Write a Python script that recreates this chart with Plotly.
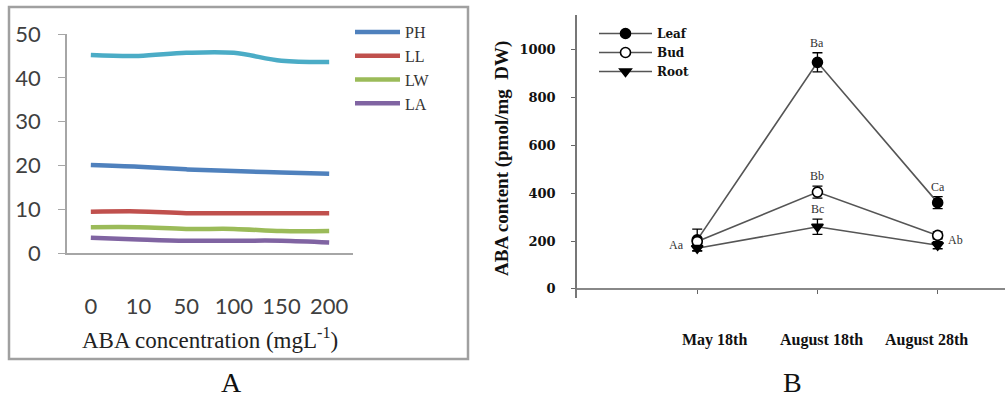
import plotly.graph_objects as go

# ---------------- data: panel A ----------------
conc = ["0", "10", "50", "100", "150", "200"]
unlabelled = [45.2, 45.0, 45.7, 45.7, 43.9, 43.6]
PH = [20.1, 19.7, 19.1, 18.7, 18.4, 18.1]
LL = [9.4, 9.5, 9.1, 9.1, 9.1, 9.1]
LW = [5.9, 5.9, 5.5, 5.5, 5.0, 5.0]
LA = [3.5, 3.1, 2.8, 2.8, 2.8, 2.4]
yticks_A = [0, 10, 20, 30, 40, 50]

# ---------------- data: panel B ----------------
dates = ["May 18th", "August 18th", "August 28th"]
date_pos = [1, 2, 3]
leaf = [205, 948, 361]
leaf_err = [45, 40, 25]
bud = [198, 405, 224]
bud_err = [10, 25, 15]
root = [170, 260, 183]
root_err = [12, 32, 15]
yticks_B = [0, 200, 400, 600, 800, 1000]
letters_above = [("Ba", 1, "leaf"), ("Bb", 1, "bud"), ("Bc", 1, "root"), ("Ca", 2, "leaf")]
letter_left = ("Aa", 0)
letter_right = ("Ab", 2)

W, H = 1005, 400
def px(x): return x / W
def py(y): return 1 - y / H

fig = go.Figure()

colsA = {"unl": "#4BACC6", "PH": "#4F81BD", "LL": "#C0504D", "LW": "#9BBB59", "LA": "#8064A2"}
fig.add_trace(go.Scatter(x=conc, y=unlabelled, mode="lines", line=dict(color=colsA["unl"], width=4.5, shape="spline"),
                         showlegend=False, xaxis="x", yaxis="y"))
for name, vals in [("PH", PH), ("LL", LL), ("LW", LW), ("LA", LA)]:
    fig.add_trace(go.Scatter(x=conc, y=vals, mode="lines", name=name,
                             line=dict(color=colsA[name], width=4.5, shape="spline"),
                             xaxis="x", yaxis="y", legend="legend"))

serif = "Liberation Serif"
wideserif = "DejaVu Serif"
series_B = [("Leaf", leaf, leaf_err, "circle", "black"),
            ("Bud", bud, bud_err, "circle", "white"),
            ("Root", root, root_err, "triangle-down", "black")]
for name, vals, err, sym, fill in series_B:
    fig.add_trace(go.Scatter(
        x=date_pos, y=vals, mode="lines+markers", name=name,
        line=dict(color="#555555", width=1.6),
        marker=dict(symbol=sym, size=10, color=fill, line=dict(color="black", width=1.6)),
        error_y=dict(type="data", array=err, color="black", thickness=1.3, width=5),
        xaxis="x2", yaxis="y2", legend="legend2"))

lookup = {"leaf": (leaf, leaf_err), "bud": (bud, bud_err), "root": (root, root_err)}
ann = []
for txt, i, ser in letters_above:
    v, e = lookup[ser]
    ann.append(dict(x=date_pos[i], y=v[i] + e[i], xref="x2", yref="y2", text=txt, showarrow=False,
                    xanchor="center", yanchor="bottom", yshift=1, font=dict(family=serif, size=12, color="#333")))
t, i = letter_left
ann.append(dict(x=date_pos[i], y=(bud[i] + root[i]) / 2, xref="x2", yref="y2", text=t, showarrow=False,
                xanchor="right", yanchor="middle", xshift=-11, font=dict(family=serif, size=12, color="#333")))
t, i = letter_right
ann.append(dict(x=date_pos[i], y=(bud[i] + root[i]) / 2, xref="x2", yref="y2", text=t, showarrow=False,
                xanchor="left", yanchor="middle", xshift=8, font=dict(family=serif, size=12, color="#333")))
# date category labels (SigmaPlot style, set below the axis)
date_shift = [17, 4, -11]
for d, p, s in zip(dates, date_pos, date_shift):
    ann.append(dict(x=p, y=py(340), xref="x2", yref="paper", text="<b>" + d + "</b>", showarrow=False,
                    xanchor="center", yanchor="middle", xshift=s, font=dict(family=serif, size=16, color="#111")))
# axis title A
ann.append(dict(x=px(210), y=py(338), xref="paper", yref="paper", text="ABA concentration (mgL<sup>-1</sup>)",
                xanchor="center", yanchor="middle", showarrow=False, font=dict(family=serif, size=23, color="#222")))
# y title B
ann.append(dict(x=px(502), y=py(159), xref="paper", yref="paper", text="<b>ABA content (pmol/mg  DW)</b>",
                xanchor="center", yanchor="middle", textangle=-90, showarrow=False,
                font=dict(family=serif, size=19, color="#111")))
# panel labels
for lab, xc in [("A", 231), ("B", 792)]:
    ann.append(dict(x=px(xc), y=py(382), xref="paper", yref="paper", text=lab, showarrow=False,
                    xanchor="center", yanchor="middle", font=dict(family=serif, size=28, color="#111")))

fig.update_layout(
    width=W, height=H, margin=dict(l=0, r=0, t=0, b=0, autoexpand=False),
    paper_bgcolor="white", plot_bgcolor="white",
    xaxis=dict(domain=[px(67), px(353)], type="category", range=[-0.5, 5.5], anchor="y", automargin=False,
               showline=True, linecolor="#A6A6A6", linewidth=1.5, ticks="", showgrid=False, zeroline=False,
               ticklabelstandoff=33, tickfont=dict(family="Lato", size=22, color="#404040")),
    yaxis=dict(domain=[py(253), py(34)], range=[0, 50], anchor="x", tickvals=yticks_A, automargin=False,
               showline=True, linecolor="#A6A6A6", linewidth=1.5, ticks="outside", ticklen=7, tickcolor="#A6A6A6",
               showgrid=False, zeroline=False, ticklabelstandoff=13,
               tickfont=dict(family="Lato", size=22, color="#404040")),
    xaxis2=dict(domain=[px(577), 1.0], range=[0, 3.56], anchor="free", position=py(289), automargin=False,
                tickvals=date_pos, showticklabels=False, showline=True, linecolor="#888", linewidth=1.5,
                ticks="outside", ticklen=4, tickcolor="#666", showgrid=False, zeroline=False),
    yaxis2=dict(domain=[py(298), py(15)], range=[-38, 1146], anchor="x2", tickvals=yticks_B, automargin=False,
                showline=True, linecolor="#777", linewidth=1.5, ticks="outside", ticklen=4, tickcolor="#666",
                showgrid=False, zeroline=False, ticklabelstandoff=13,
                tickfont=dict(family=wideserif, size=13, color="#111", weight="bold")),
    legend=dict(x=px(350), y=py(15), xanchor="left", yanchor="top", bgcolor="rgba(0,0,0,0)",
                font=dict(family=serif, size=16, color="#333"), itemwidth=45),
    legend2=dict(x=px(594), y=py(19), xanchor="left", yanchor="top", bgcolor="rgba(0,0,0,0)",
                 font=dict(family=wideserif, size=12, color="#111", weight="bold"), itemwidth=53),
    annotations=ann,
    shapes=[dict(type="rect", xref="paper", yref="paper", x0=px(9), x1=px(468), y0=py(359), y1=py(7),
                 line=dict(color="#A0A0A0", width=2.5), fillcolor="rgba(0,0,0,0)", layer="below")],
)

fig.write_html("out.html", config={"displayModeBar": False},
               post_script="document.body.style.margin='0px';document.body.style.overflow='hidden';")
